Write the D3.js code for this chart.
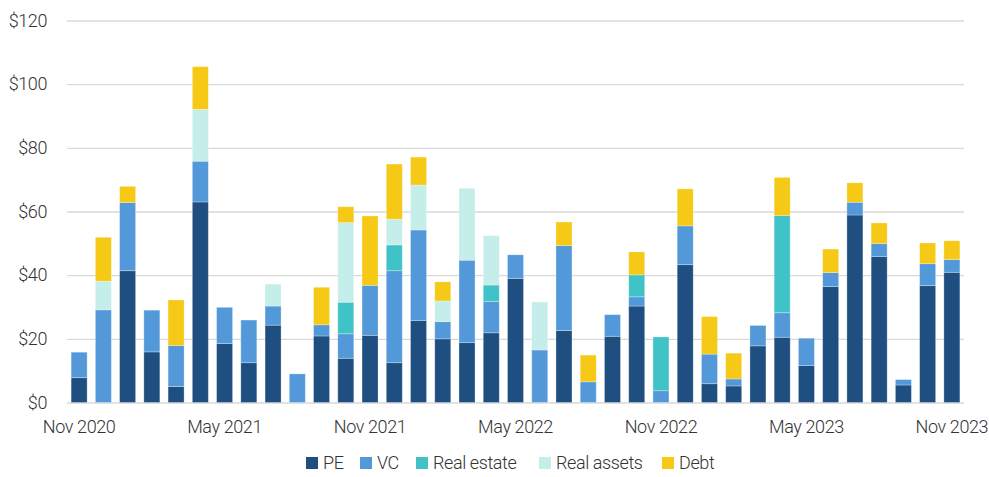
<!DOCTYPE html>
<html>
<head>
<meta charset="utf-8">
<script src="https://cdn.jsdelivr.net/npm/d3@7"></script>
<style>
  html, body { margin: 0; padding: 0; background: #fff; }
  svg text { font-family: Roboto, "Liberation Sans", sans-serif; font-weight: 300; letter-spacing: -0.4px; fill: #333; }
</style>
</head>
<body>
<div class="wrapper"></div>
<script>

var months = ["Nov 2020","Dec 2020","Jan 2021","Feb 2021","Mar 2021","Apr 2021","May 2021","Jun 2021",
	"Jul 2021","Aug 2021","Sep 2021","Oct 2021","Nov 2021","Dec 2021","Jan 2022","Feb 2022","Mar 2022",
	"Apr 2022","May 2022","Jun 2022","Jul 2022","Aug 2022","Sep 2022","Oct 2022","Nov 2022","Dec 2022",
	"Jan 2023","Feb 2023","Mar 2023","Apr 2023","May 2023","Jun 2023","Jul 2023","Aug 2023","Sep 2023",
	"Oct 2023","Nov 2023"];

var xTicks = ["Nov 2020","May 2021","Nov 2021","May 2022","Nov 2022","May 2023","Nov 2023"];
var yTicks = [0, 20, 40, 60, 80, 100, 120];

var seriesNames = ["PE", "VC", "Real estate", "Real assets", "Debt"];
var seriesColors = ["#1f4f80", "#5399d9", "#40c3c7", "#c5ede9", "#f5c915"];

var pe = [7.8, 0, 41.4, 15.9, 5.0, 63.0, 18.5, 12.5, 24.3, 0, 20.9, 13.9, 21.1, 12.5, 25.8, 20.0, 18.8,
	21.9, 39.0, 0, 22.6, 0, 20.8, 30.3, 0, 43.3, 5.9, 5.2, 17.8, 20.5, 11.6, 36.4, 58.9, 45.9, 5.5, 36.7, 40.9];
var vc = [8.0, 29.1, 21.4, 13.1, 12.9, 12.8, 11.4, 13.4, 6.0, 9.0, 3.5, 7.7, 15.7, 28.9, 28.4, 5.4, 25.9,
	9.8, 7.4, 16.5, 26.7, 6.5, 6.8, 2.9, 3.7, 12.2, 9.3, 2.2, 6.4, 7.7, 8.6, 4.4, 4.0, 4.0, 1.7, 6.9, 4.0];
var realEstate = [0, 0, 0, 0, 0, 0, 0, 0, 0, 0, 0, 9.9, 0, 8.1, 0, 0, 0,
	5.2, 0, 0, 0, 0, 0, 6.9, 16.9, 0, 0, 0, 0, 30.5, 0, 0, 0, 0, 0, 0, 0];
var realAssets = [0, 9.0, 0, 0, 0, 16.3, 0, 0, 6.9, 0, 0, 25.0, 0, 8.1, 14.1, 6.5, 22.6,
	15.5, 0, 15.1, 0, 0, 0, 0, 0, 0, 0, 0, 0, 0, 0, 0, 0, 0, 0, 0, 0];
var debt = [0, 13.8, 5.1, 0, 14.3, 13.4, 0, 0, 0, 0, 11.8, 5.0, 21.8, 17.3, 8.8, 6.0, 0,
	0, 0, 0, 7.4, 8.4, 0, 7.2, 0, 11.6, 11.8, 8.1, 0, 12.0, 0, 7.4, 6.1, 6.5, 0, 6.5, 5.9];

var WIDTH = 989,
	HEIGHT = 477,
	PLOT_LEFT = 67,
	PLOT_RIGHT = 964,
	PLOT_TOP = 20.5,
	PLOT_BOTTOM = 402.5,
	FONT_SIZE = 18;

// one row per month, keyed by series name
var table = months.map(function(m, i) {
	return {
		month: m,
		"PE": pe[i],
		"VC": vc[i],
		"Real estate": realEstate[i],
		"Real assets": realAssets[i],
		"Debt": debt[i]
	};
});

var stacked = d3.stack().keys(seriesNames)(table);

var x = d3.scaleBand()
	.domain(months)
	.range([PLOT_LEFT, PLOT_RIGHT])
	.paddingInner(0.34)
	.paddingOuter(0.17);

var y = d3.scaleLinear()
	.domain([0, 120])
	.range([PLOT_BOTTOM, PLOT_TOP]);

var color = d3.scaleOrdinal().domain(seriesNames).range(seriesColors);

var svg = d3.select(".wrapper")
	.append("svg")
		.attr("width", WIDTH)
		.attr("height", HEIGHT);

// gridlines + y labels
var yAxis = svg.append("g")
	.attr("class", "y-axis")
	.attr("transform", "translate(" + PLOT_LEFT + ",0)")
	.call(d3.axisLeft(y)
		.tickValues(yTicks)
		.tickSize(-(PLOT_RIGHT - PLOT_LEFT))
		.tickPadding(20)
		.tickFormat(function(d) { return "$" + d; }));

yAxis.select(".domain").remove();
yAxis.selectAll(".tick line")
	.attr("stroke", "#d9d9d9")
	.attr("stroke-width", 1.4);
yAxis.selectAll(".tick text")
	.attr("font-size", FONT_SIZE)
	.attr("fill", "#333");

// bars
var layers = svg.append("g")
	.attr("class", "bars")
	.selectAll("g")
	.data(stacked)
	.enter()
	.append("g")
		.attr("fill", function(d) { return color(d.key); });

layers.selectAll("rect")
	.data(function(d) { return d.filter(function(s) { return s[1] - s[0] > 0; }); })
	.enter()
	.append("rect")
		.attr("x", function(d) { return x(d.data.month); })
		.attr("y", function(d) { return y(d[1]); })
		.attr("width", x.bandwidth())
		.attr("height", function(d) { return y(d[0]) - y(d[1]); })
		.attr("stroke", "#ffffff")
		.attr("stroke-opacity", 0.35)
		.attr("stroke-width", 0.8);

// x labels
var xAxis = svg.append("g")
	.attr("class", "x-axis")
	.attr("transform", "translate(0," + PLOT_BOTTOM + ")")
	.call(d3.axisBottom(x)
		.tickValues(xTicks)
		.tickSize(0)
		.tickPadding(18));

xAxis.select(".domain").remove();
xAxis.selectAll(".tick text")
	.attr("font-size", FONT_SIZE)
	.attr("fill", "#333");

// legend
var legendX = [306, 360, 416, 539, 662];

var legend = svg.append("g")
	.attr("class", "legend")
	.selectAll("g")
	.data(seriesNames)
	.enter()
	.append("g")
		.attr("transform", function(d, i) { return "translate(" + legendX[i] + ",457)"; });

legend.append("rect")
	.attr("width", 12)
	.attr("height", 12)
	.attr("fill", function(d) { return color(d); });

legend.append("text")
	.attr("x", 17)
	.attr("y", 6)
	.attr("dy", "0.36em")
	.attr("font-size", FONT_SIZE)
	.text(function(d) { return d; });

</script>
</body>
</html>
